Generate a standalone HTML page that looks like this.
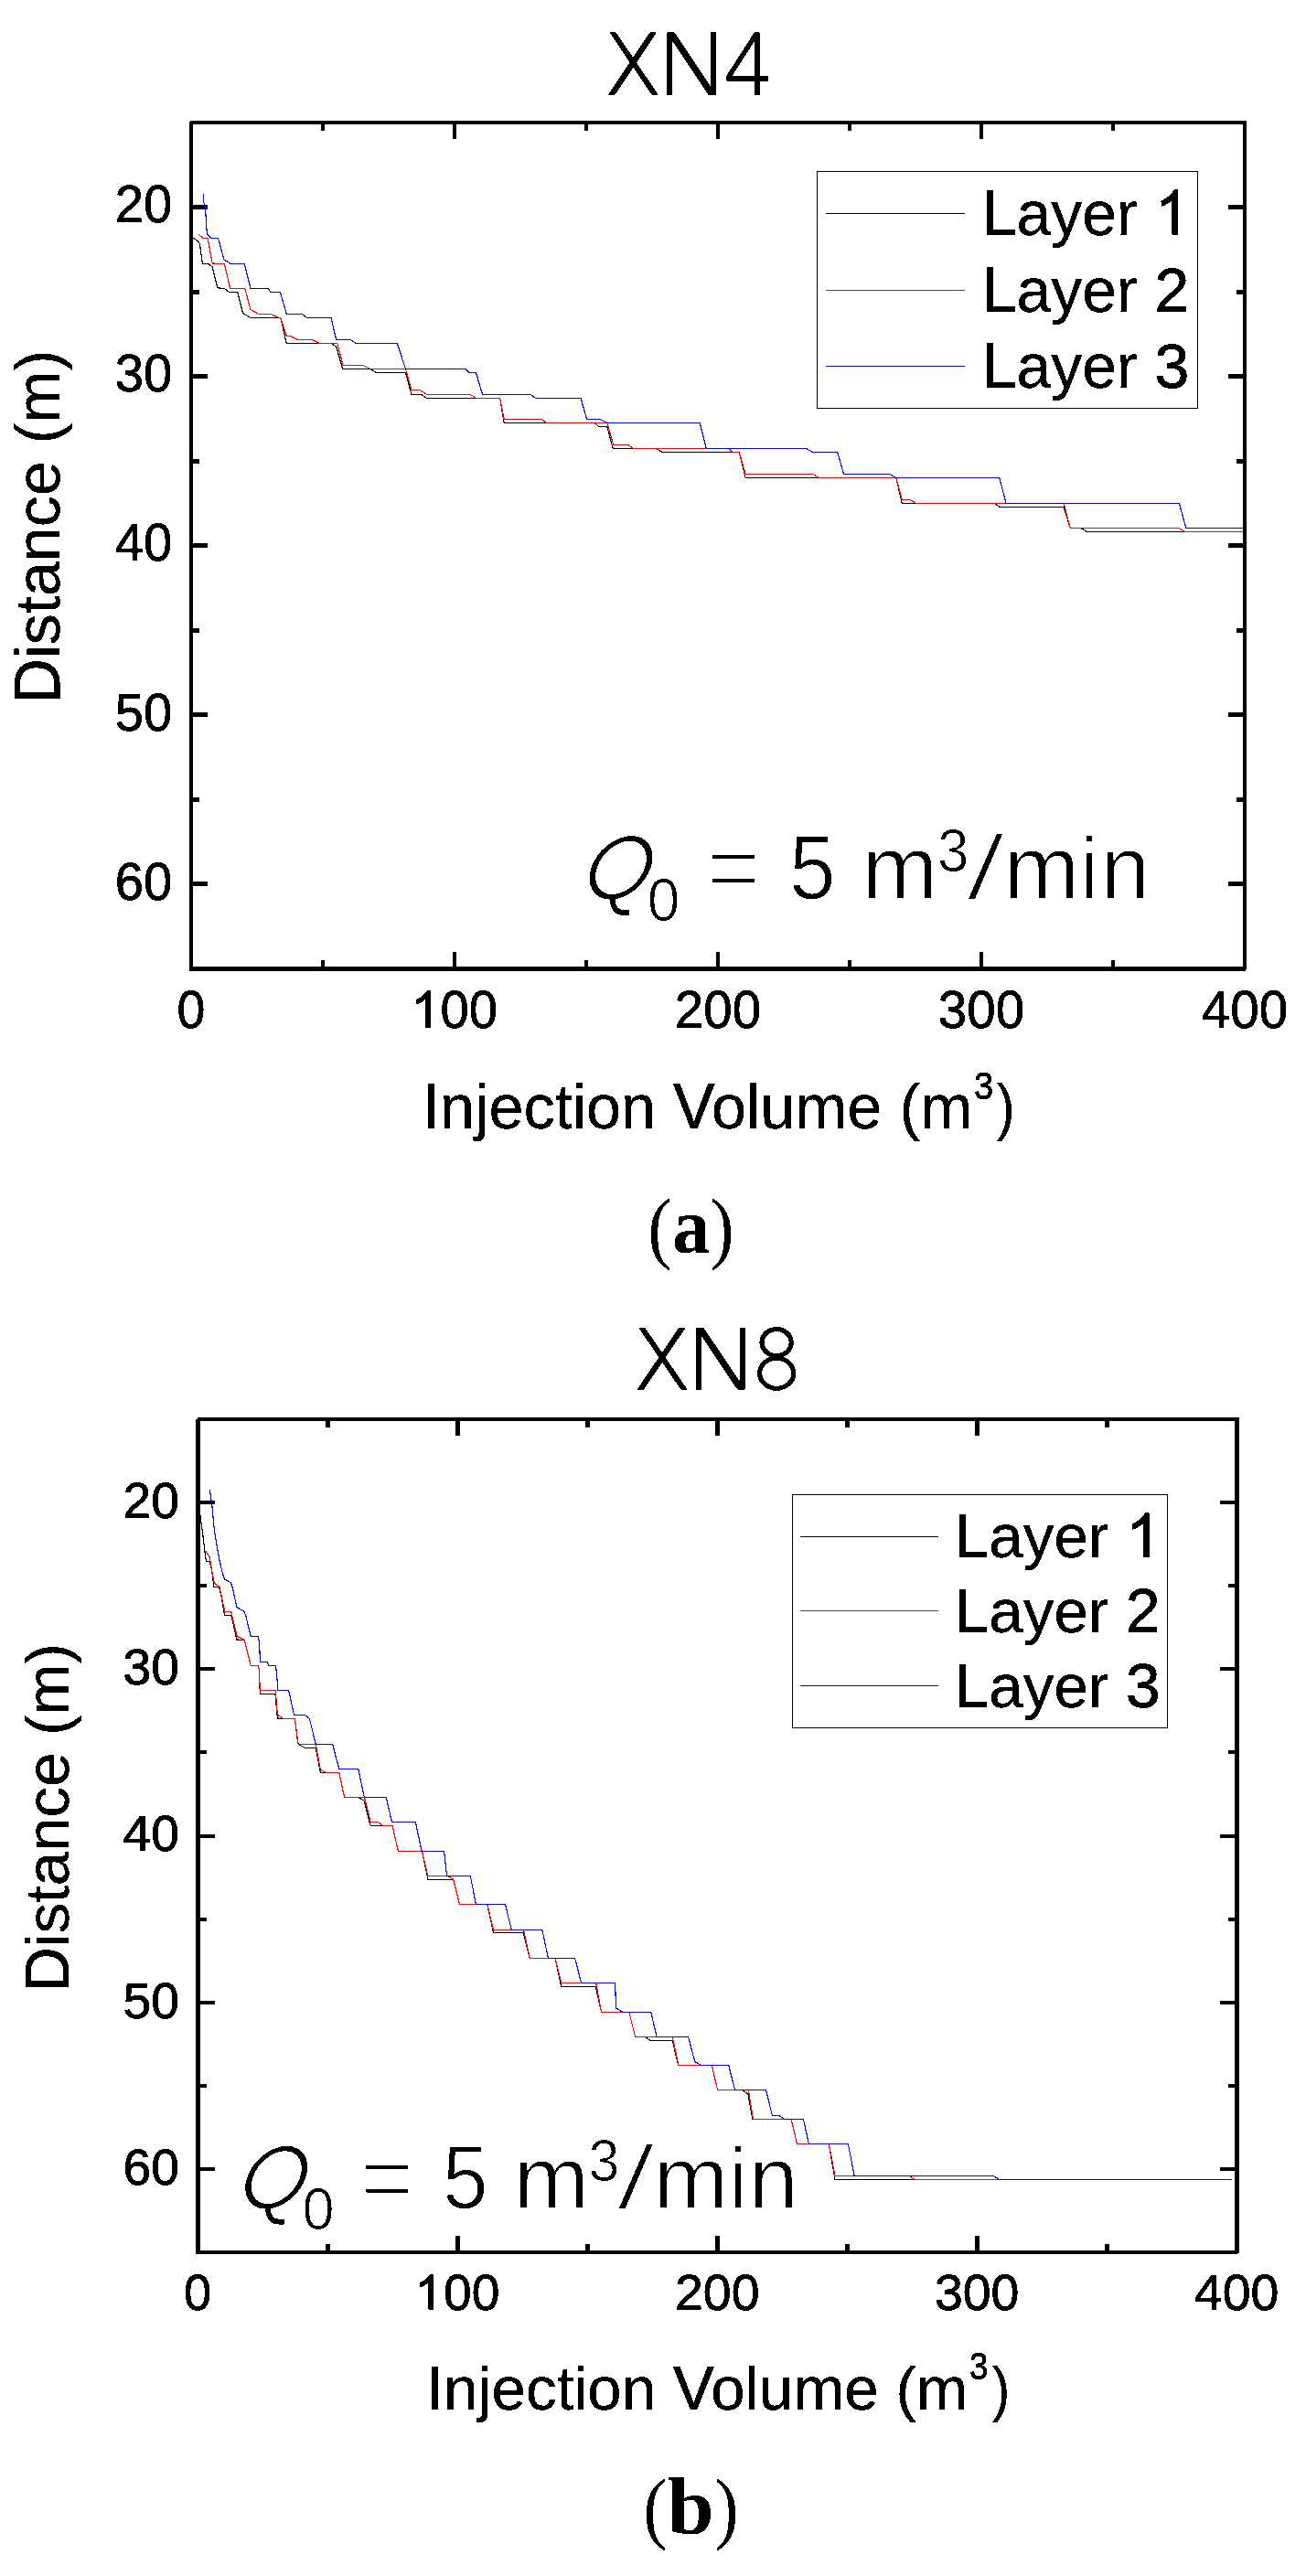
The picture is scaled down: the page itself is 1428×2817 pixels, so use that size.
<!DOCTYPE html>
<html><head><meta charset="utf-8"><title>Figure</title>
<style>html,body{margin:0;padding:0;background:#fff}svg{display:block}</style>
</head><body>
<svg width="1428" height="2817" viewBox="0 0 1428 2817" font-family="'Liberation Sans', sans-serif">
<rect width="1428" height="2817" fill="#fff"/>
<defs><filter id="bin" x="-5%" y="-5%" width="110%" height="110%" color-interpolation-filters="sRGB"><feComponentTransfer><feFuncR type="discrete" tableValues="0 1"/><feFuncG type="discrete" tableValues="0 1"/><feFuncB type="discrete" tableValues="0 1"/><feFuncA type="discrete" tableValues="0 1"/></feComponentTransfer></filter></defs>
<g fill="#000">
<rect x="207" y="132" width="1156" height="4"/>
<rect x="207" y="1057" width="1156" height="5"/>
<rect x="207" y="132" width="4" height="930"/>
<rect x="1359" y="132" width="4" height="930"/>
<rect x="211" y="224" width="16" height="5"/>
<rect x="1343" y="224" width="16" height="5"/>
<rect x="211" y="317" width="7" height="5"/>
<rect x="1352" y="317" width="7" height="5"/>
<rect x="211" y="409" width="16" height="5"/>
<rect x="1343" y="409" width="16" height="5"/>
<rect x="211" y="502" width="7" height="5"/>
<rect x="1352" y="502" width="7" height="5"/>
<rect x="211" y="594" width="16" height="5"/>
<rect x="1343" y="594" width="16" height="5"/>
<rect x="211" y="687" width="7" height="5"/>
<rect x="1352" y="687" width="7" height="5"/>
<rect x="211" y="779" width="16" height="5"/>
<rect x="1343" y="779" width="16" height="5"/>
<rect x="211" y="872" width="7" height="5"/>
<rect x="1352" y="872" width="7" height="5"/>
<rect x="211" y="964" width="16" height="5"/>
<rect x="1343" y="964" width="16" height="5"/>
<rect x="351" y="136" width="4" height="7"/>
<rect x="351" y="1050" width="4" height="7"/>
<rect x="495" y="136" width="4" height="16"/>
<rect x="495" y="1041" width="4" height="16"/>
<rect x="639" y="136" width="4" height="7"/>
<rect x="639" y="1050" width="4" height="7"/>
<rect x="783" y="136" width="4" height="16"/>
<rect x="783" y="1041" width="4" height="16"/>
<rect x="927" y="136" width="4" height="7"/>
<rect x="927" y="1050" width="4" height="7"/>
<rect x="1071" y="136" width="4" height="16"/>
<rect x="1071" y="1041" width="4" height="16"/>
<rect x="1215" y="136" width="4" height="7"/>
<rect x="1215" y="1050" width="4" height="7"/>
</g>
<polyline points="210.3,260.2 212.6,261.1 216.1,263.2 218.4,266.6 221.4,288.4 227.6,288.4 232.2,291.9 237.9,314.9 244.8,315.3 250.5,319.2 259.7,319.4 265.5,342.4 273.5,347.2 306.8,347.2 313.2,375.3 361.9,375.3 367.7,379.2 374.6,403.3 404.4,403.3 411.3,407.4 443.5,407.4 449.9,431.3 460.7,431.3 466.5,435.5 498.6,435.5 503,435.5 546.6,435.5 551.2,462.3 650,462.3 654.6,466.5 663.8,466.5 670.2,490.4 717.7,490.4 724,494.5 778.6,494.5 783,494.4 808.2,494.4 815.1,522.4 979.8,522.4 986.3,550.5 1058.6,550.5 1066,550.2 1086.9,550.2 1092.8,554.4 1163.1,554.4 1170.2,577.3 1181.4,577.3 1188.4,581.5 1358.9,581.5" fill="none" stroke="#000" stroke-width="1.15" shape-rendering="crispEdges"/>
<polyline points="217.2,256.3 221.8,260.2 227.1,260.6 232.2,288 245.3,288.4 251.7,315.3 267.8,315.5 274,338.5 282.7,343.3 295.3,343.3 306.8,348.2 313.2,367 317.2,367.5 325.2,371.4 341.3,371.4 349.3,375.3 368.8,375.3 375,399.2 396.4,399.2 404.4,403.3 443.5,403.3 449.9,426.5 459.6,426.7 466.5,431.3 498.6,431.3 503,431.3 514,431.3 520.9,435.5 546.6,435.5 551.2,458.2 591.9,458.2 597.6,462.3 663.8,462.3 670.7,486.4 686.7,486.4 692.5,490.4 778.6,490.4 783,490.5 796.8,490.5 800.9,494.4 808.2,494.4 815.1,518.5 889.3,518.5 895.1,522.4 979.8,522.4 986.3,546.3 994.8,546.3 1001.7,550.5 1058.6,550.5 1066,550.2 1163.1,550.2 1170.2,577.3 1288.6,577.3 1295.7,581.5 1358.9,581.5" fill="none" stroke="#f00" stroke-width="1.15" shape-rendering="crispEdges"/>
<polyline points="221.8,212.2 222.5,212.2 222.5,221.8 223.7,222.3 224.8,231.5 225.7,248.2 226.6,256.3 231,260.2 238.6,260.4 244.8,283.8 251.7,288.2 267.1,288.2 274,315.3 293,315.3 296,319.2 306.4,319.4 313.2,343.3 329.8,343.3 335.5,347.2 361.9,347.2 367.7,371.4 383.1,371.4 388.8,375.3 434.3,375.3 443.5,403.5 498.6,403.5 503,403.5 509.2,403.5 512.8,407.4 520.4,407.4 527.5,431.3 579.9,431.3 585.7,435.5 635.1,435.5 641.5,458.2 655.7,458.2 663.3,462.3 765.3,462.3 772.2,490.4 778.6,490.4 783,490.3 881.1,490.3 887.9,494.2 915.7,494.2 922.6,518.5 973.2,518.5 979.4,522.4 1058.6,522.4 1066,522.4 1092.8,522.4 1099.9,550.2 1289.4,550.2 1296.7,577.3 1358.9,577.3" fill="none" stroke="#00f" stroke-width="1.15" shape-rendering="crispEdges"/>
<g font-family="'Liberation Sans', sans-serif" fill="#000">
<g filter="url(#bin)">
<text x="125.74" y="243.25" font-size="57.6" textLength="62.53" lengthAdjust="spacingAndGlyphs" stroke="#000" stroke-width="0.8" >20</text>
<text x="125.73" y="428.35" font-size="57.6" textLength="62.54" lengthAdjust="spacingAndGlyphs" stroke="#000" stroke-width="0.8" >30</text>
<text x="125.72" y="613.45" font-size="57.6" textLength="62.55" lengthAdjust="spacingAndGlyphs" stroke="#000" stroke-width="0.8" >40</text>
<text x="125.73" y="798.55" font-size="57.6" textLength="62.54" lengthAdjust="spacingAndGlyphs" stroke="#000" stroke-width="0.8" >50</text>
<text x="125.74" y="983.65" font-size="57.6" textLength="62.53" lengthAdjust="spacingAndGlyphs" stroke="#000" stroke-width="0.8" >60</text>
<text x="193.62" y="1124.40" font-size="57.6" textLength="30.77" lengthAdjust="spacingAndGlyphs" stroke="#000" stroke-width="0.8" >0</text>
<path transform="translate(449.45,1124.00) scale(0.02783,-0.02783)" stroke="#000" stroke-width="0.8" vector-effect="non-scaling-stroke" d="M763,0 L583,0 L583,1147 Q518,1085 412.5,1023 Q307,961 223,930 L223,1104 Q374,1175 487,1276 Q600,1377 647,1472 L763,1472 Z"/>
<text x="481.58" y="1124.40" font-size="57.6" textLength="62.54" lengthAdjust="spacingAndGlyphs" stroke="#000" stroke-width="0.8" >00</text>
<text x="737.87" y="1124.40" font-size="57.6" textLength="94.26" lengthAdjust="spacingAndGlyphs" stroke="#000" stroke-width="0.8" >200</text>
<text x="1025.87" y="1124.40" font-size="57.6" textLength="94.26" lengthAdjust="spacingAndGlyphs" stroke="#000" stroke-width="0.8" >300</text>
<text x="1313.86" y="1124.40" font-size="57.6" textLength="94.27" lengthAdjust="spacingAndGlyphs" stroke="#000" stroke-width="0.8" >400</text>
<text x="462.08" y="1234.00" font-size="70.0075" textLength="19.02" lengthAdjust="spacingAndGlyphs" stroke="#000" stroke-width="0.8" >I</text>
<text x="481.10" y="1234.00" font-size="68.3" textLength="235.98" lengthAdjust="spacingAndGlyphs" stroke="#000" stroke-width="0.3" >njection</text>
<text x="736.10" y="1234.00" font-size="70.0075" textLength="45.66" lengthAdjust="spacingAndGlyphs" stroke="#000" stroke-width="0.8" >V</text>
<text x="777.99" y="1234.00" font-size="68.3" textLength="285.32" lengthAdjust="spacingAndGlyphs" stroke="#000" stroke-width="0.3" >olume (m</text>
<text x="1065.05" y="1201.60" font-size="42.4826" textLength="21.23" lengthAdjust="spacingAndGlyphs" stroke="#000" stroke-width="0.8" >3</text>
<text x="1089.70" y="1234.00" font-size="68.3" textLength="19.84" lengthAdjust="spacingAndGlyphs" stroke="#000" stroke-width="0.3" >)</text>
<g transform="translate(65.2,0) rotate(-90)">
<text x="-769.60" y="0.00" font-size="70.0075" textLength="49.28" lengthAdjust="spacingAndGlyphs" stroke="#000" stroke-width="0.8" >D</text>
<text x="-720.32" y="0.00" font-size="68.3" textLength="337.45" lengthAdjust="spacingAndGlyphs" stroke="#000" stroke-width="0.3" >istance (m)</text>
</g>
</g>
<rect x="893.5" y="187.5" width="416" height="259" fill="#fff" stroke="#000" stroke-width="1" shape-rendering="crispEdges"/>
<rect x="903" y="233" width="152" height="1" fill="#000"/>
<rect x="903" y="317" width="152" height="1" fill="#f00"/>
<rect x="903" y="400" width="152" height="1" fill="#00f"/>
<g filter="url(#bin)">
<text x="1073.73" y="256.70" font-size="69.905" textLength="37.78" lengthAdjust="spacingAndGlyphs" stroke="#000" stroke-width="0.8" >L</text>
<text x="1111.51" y="256.70" font-size="68.2" textLength="132.15" lengthAdjust="spacingAndGlyphs" stroke="#000" stroke-width="0.3" >ayer</text>
<path transform="translate(1262.54,256.70) scale(0.03317,-0.03330)" stroke="#000" stroke-width="0.8" vector-effect="non-scaling-stroke" d="M763,0 L583,0 L583,1147 Q518,1085 412.5,1023 Q307,961 223,930 L223,1104 Q374,1175 487,1276 Q600,1377 647,1472 L763,1472 Z"/>
<text x="1073.73" y="340.70" font-size="69.905" textLength="37.78" lengthAdjust="spacingAndGlyphs" stroke="#000" stroke-width="0.8" >L</text>
<text x="1111.51" y="340.70" font-size="68.2" textLength="132.15" lengthAdjust="spacingAndGlyphs" stroke="#000" stroke-width="0.3" >ayer</text>
<text x="1262.54" y="340.70" font-size="68.882" textLength="37.78" lengthAdjust="spacingAndGlyphs" stroke="#000" stroke-width="0.8" >2</text>
<text x="1073.73" y="423.90" font-size="69.905" textLength="37.78" lengthAdjust="spacingAndGlyphs" stroke="#000" stroke-width="0.8" >L</text>
<text x="1111.51" y="423.90" font-size="68.2" textLength="132.15" lengthAdjust="spacingAndGlyphs" stroke="#000" stroke-width="0.3" >ayer</text>
<text x="1262.54" y="423.90" font-size="68.882" textLength="37.78" lengthAdjust="spacingAndGlyphs" stroke="#000" stroke-width="0.8" >3</text>
</g>
</g>
<g fill="#000">
<rect x="214" y="1550" width="1141" height="4"/>
<rect x="214" y="2461" width="1141" height="4"/>
<rect x="214" y="1550" width="5" height="915"/>
<rect x="1350" y="1550" width="5" height="915"/>
<rect x="219" y="1641" width="16" height="4"/>
<rect x="1334" y="1641" width="16" height="4"/>
<rect x="219" y="1732" width="7" height="4"/>
<rect x="1343" y="1732" width="7" height="4"/>
<rect x="219" y="1823" width="16" height="4"/>
<rect x="1334" y="1823" width="16" height="4"/>
<rect x="219" y="1914" width="7" height="4"/>
<rect x="1343" y="1914" width="7" height="4"/>
<rect x="219" y="2006" width="16" height="4"/>
<rect x="1334" y="2006" width="16" height="4"/>
<rect x="219" y="2097" width="7" height="4"/>
<rect x="1343" y="2097" width="7" height="4"/>
<rect x="219" y="2188" width="16" height="4"/>
<rect x="1334" y="2188" width="16" height="4"/>
<rect x="219" y="2279" width="7" height="4"/>
<rect x="1343" y="2279" width="7" height="4"/>
<rect x="219" y="2370" width="16" height="4"/>
<rect x="1334" y="2370" width="16" height="4"/>
<rect x="356" y="1554" width="5" height="7"/>
<rect x="356" y="2454" width="5" height="7"/>
<rect x="498" y="1554" width="5" height="16"/>
<rect x="498" y="2445" width="5" height="16"/>
<rect x="640" y="1554" width="5" height="7"/>
<rect x="640" y="2454" width="5" height="7"/>
<rect x="782" y="1554" width="5" height="16"/>
<rect x="782" y="2445" width="5" height="16"/>
<rect x="924" y="1554" width="5" height="7"/>
<rect x="924" y="2454" width="5" height="7"/>
<rect x="1066" y="1554" width="5" height="16"/>
<rect x="1066" y="2445" width="5" height="16"/>
<rect x="1208" y="1554" width="5" height="7"/>
<rect x="1208" y="2454" width="5" height="7"/>
</g>
<polyline points="218.9,1657 219.8,1664.3 221.1,1673.5 222.4,1682.7 223.9,1696.5 225.4,1707 229.4,1707.5 231.6,1717.6 234,1735.1 239.5,1735.6 242.3,1747 245.4,1766.3 252.7,1766.3 256,1780.1 258.8,1793 267.1,1793.3 270.8,1807.7 274.1,1821.3 282.3,1821.3 282.5,1821.3 283.4,1827.6 284.3,1852.4 300.9,1852.4 303.4,1879 309.5,1879.4 322.4,1879.4 326,1906.6 327,1908.1 334,1911.4 345.3,1911.4 350.3,1938.2 370.7,1938.2 376.6,1965.4 392.2,1965.9 398.1,1969.1 405.1,1996.4 429,1996.4 435.4,2024.4 461.1,2024.4 461.4,2024.1 468,2055.1 495.6,2055.1 502.4,2082.3 532.7,2082.3 539.5,2113.4 572.2,2113.4 579.2,2141.3 607.1,2141.3 613.6,2172.4 651.2,2172.4 657.5,2200.2 687.8,2200.2 694.6,2227.4 705.2,2227.4 710.8,2231.2 735.2,2231.2 741.6,2258.4 778.2,2258.4 784.6,2285.4 810.9,2285.4 817.9,2289.7 822.8,2317.4 865.1,2317.4 871.5,2344.3 906.2,2344.3 913,2383.4 1000.3,2383.4 1092.7,2383.4" fill="none" stroke="#000" stroke-width="1.15" shape-rendering="crispEdges"/>
<polyline points="224.8,1696.1 229.4,1702.9 231.6,1717.6 234.4,1731.4 240.1,1735.6 243.2,1750.7 245.9,1762.3 252.7,1762.3 256,1776.4 259.2,1789.3 267.1,1793.3 270.8,1807.7 274.1,1821.3 282.3,1821.3 282.5,1821.3 283.4,1827.6 284.3,1848.3 301.2,1848.3 303.4,1875.3 309.5,1879.4 322.4,1879.4 325.7,1906.6 326.6,1907.5 345.3,1907.5 350.3,1935.1 356.4,1938.2 370.7,1938.2 376.6,1965.4 398.6,1965.4 405.1,1992.4 413.3,1992.4 418.5,1996.4 429,1996.4 435.4,2024.4 461.1,2024.4 461.4,2024.1 467.8,2051.3 489.5,2051.3 495.6,2055.1 502.4,2082.3 532.7,2082.3 539.5,2110.3 572.6,2110.3 579.2,2141.3 607.1,2141.3 613.6,2168.3 651.6,2168.3 657.5,2200.2 687.8,2200.2 694.6,2227.4 735.2,2227.4 742,2258.4 778.2,2258.4 784.6,2285.4 818.3,2285.4 823.4,2317.4 865.1,2317.4 871.5,2344.3 906.2,2344.3 913,2379.2 993.9,2379.2 1000.3,2383.4 1092.7,2383.4" fill="none" stroke="#f00" stroke-width="1.15" shape-rendering="crispEdges"/>
<polyline points="229.4,1629 230.3,1635.8 231.6,1644.1 232.7,1655.1 234,1669.8 235.8,1682.7 237.7,1693.7 240.1,1706.6 242.6,1717.6 245.4,1726.8 252.4,1730.8 254.2,1736 256.6,1747 258.8,1757.5 267.1,1762.3 268.9,1767.2 271.7,1779.2 274.1,1789.1 282.3,1789.1 283.6,1797.5 284.5,1817.4 292.4,1817.4 293.7,1821.3 301.4,1821.3 301.6,1821.3 304,1848.3 315.6,1848.3 321.5,1875.3 333,1875.3 338.4,1879.4 345.3,1907.5 363.7,1907.5 370.7,1934.3 391.7,1934.3 398.3,1965.4 422.2,1965.4 428.4,1992.4 454.3,1992.4 461.1,2024.4 461.4,2024.1 485.5,2024.1 488.6,2051.3 514.3,2051.3 520.4,2082.3 552.4,2082.3 559.3,2110.3 592.8,2110.3 599.4,2141.3 628.6,2141.3 635.6,2168.3 672.7,2168.3 673.4,2195.9 680.8,2200.2 711.7,2200.2 718.1,2227.4 752.6,2227.4 759.8,2254.7 766.8,2258.4 796.8,2258.4 803.6,2285.4 837.5,2285.4 844.3,2313.2 851,2313.2 857.8,2317.4 857.9,2317.2 878.4,2317.2 884.3,2344.3 927.3,2344.3 934.2,2379.2 1085.8,2379.2 1092.7,2383.4 1346.5,2383.4" fill="none" stroke="#00f" stroke-width="1.15" shape-rendering="crispEdges"/>
<g font-family="'Liberation Sans', sans-serif" fill="#000">
<g filter="url(#bin)">
<text x="134.55" y="1659.90" font-size="54.8" textLength="61.42" lengthAdjust="spacingAndGlyphs" stroke="#000" stroke-width="0.8" >20</text>
<text x="134.54" y="1842.10" font-size="54.8" textLength="61.43" lengthAdjust="spacingAndGlyphs" stroke="#000" stroke-width="0.8" >30</text>
<text x="134.53" y="2024.30" font-size="54.8" textLength="61.44" lengthAdjust="spacingAndGlyphs" stroke="#000" stroke-width="0.8" >40</text>
<text x="134.54" y="2206.50" font-size="54.8" textLength="61.43" lengthAdjust="spacingAndGlyphs" stroke="#000" stroke-width="0.8" >50</text>
<text x="134.55" y="2388.70" font-size="54.8" textLength="61.42" lengthAdjust="spacingAndGlyphs" stroke="#000" stroke-width="0.8" >60</text>
<text x="201.09" y="2526.00" font-size="54.8" textLength="30.21" lengthAdjust="spacingAndGlyphs" stroke="#000" stroke-width="0.8" >0</text>
<path transform="translate(453.48,2525.60) scale(0.02625,-0.02625)" stroke="#000" stroke-width="0.8" vector-effect="non-scaling-stroke" d="M763,0 L583,0 L583,1147 Q518,1085 412.5,1023 Q307,961 223,930 L223,1104 Q374,1175 487,1276 Q600,1377 647,1472 L763,1472 Z"/>
<text x="485.06" y="2526.00" font-size="54.8" textLength="61.43" lengthAdjust="spacingAndGlyphs" stroke="#000" stroke-width="0.8" >00</text>
<text x="737.91" y="2526.00" font-size="54.8" textLength="92.59" lengthAdjust="spacingAndGlyphs" stroke="#000" stroke-width="0.8" >200</text>
<text x="1021.90" y="2526.00" font-size="54.8" textLength="92.59" lengthAdjust="spacingAndGlyphs" stroke="#000" stroke-width="0.8" >300</text>
<text x="1305.89" y="2526.00" font-size="54.8" textLength="92.60" lengthAdjust="spacingAndGlyphs" stroke="#000" stroke-width="0.8" >400</text>
<text x="466.38" y="2634.70" font-size="68.9825" textLength="18.72" lengthAdjust="spacingAndGlyphs" stroke="#000" stroke-width="0.8" >I</text>
<text x="485.10" y="2634.70" font-size="67.3" textLength="232.22" lengthAdjust="spacingAndGlyphs" stroke="#000" stroke-width="0.3" >njection</text>
<text x="736.04" y="2634.70" font-size="68.9825" textLength="44.94" lengthAdjust="spacingAndGlyphs" stroke="#000" stroke-width="0.8" >V</text>
<text x="777.26" y="2634.70" font-size="67.3" textLength="280.78" lengthAdjust="spacingAndGlyphs" stroke="#000" stroke-width="0.3" >olume (m</text>
<text x="1059.90" y="2602.00" font-size="41.8606" textLength="20.41" lengthAdjust="spacingAndGlyphs" stroke="#000" stroke-width="0.8" >3</text>
<text x="1084.81" y="2634.70" font-size="67.3" textLength="19.59" lengthAdjust="spacingAndGlyphs" stroke="#000" stroke-width="0.3" >)</text>
<g transform="translate(75,0) rotate(-90)">
<text x="-2177.81" y="0.00" font-size="68.9825" textLength="48.51" lengthAdjust="spacingAndGlyphs" stroke="#000" stroke-width="0.8" >D</text>
<text x="-2129.30" y="0.00" font-size="67.3" textLength="332.17" lengthAdjust="spacingAndGlyphs" stroke="#000" stroke-width="0.3" >istance (m)</text>
</g>
</g>
<rect x="866.5" y="1634.5" width="410" height="255" fill="#fff" stroke="#000" stroke-width="1" shape-rendering="crispEdges"/>
<rect x="875" y="1680" width="151" height="1" fill="#000"/>
<rect x="875" y="1761" width="151" height="1" fill="#f00"/>
<rect x="875" y="1843" width="151" height="1" fill="#00f"/>
<g filter="url(#bin)">
<text x="1043.77" y="1703.10" font-size="68.9825" textLength="37.47" lengthAdjust="spacingAndGlyphs" stroke="#000" stroke-width="0.8" >L</text>
<text x="1081.24" y="1703.10" font-size="67.3" textLength="131.06" lengthAdjust="spacingAndGlyphs" stroke="#000" stroke-width="0.3" >ayer</text>
<path transform="translate(1231.02,1703.10) scale(0.03290,-0.03286)" stroke="#000" stroke-width="0.8" vector-effect="non-scaling-stroke" d="M763,0 L583,0 L583,1147 Q518,1085 412.5,1023 Q307,961 223,930 L223,1104 Q374,1175 487,1276 Q600,1377 647,1472 L763,1472 Z"/>
<text x="1043.77" y="1784.70" font-size="68.9825" textLength="37.47" lengthAdjust="spacingAndGlyphs" stroke="#000" stroke-width="0.8" >L</text>
<text x="1081.24" y="1784.70" font-size="67.3" textLength="131.06" lengthAdjust="spacingAndGlyphs" stroke="#000" stroke-width="0.3" >ayer</text>
<text x="1231.02" y="1784.70" font-size="67.973" textLength="37.47" lengthAdjust="spacingAndGlyphs" stroke="#000" stroke-width="0.8" >2</text>
<text x="1043.77" y="1867.30" font-size="68.9825" textLength="37.47" lengthAdjust="spacingAndGlyphs" stroke="#000" stroke-width="0.8" >L</text>
<text x="1081.24" y="1867.30" font-size="67.3" textLength="131.06" lengthAdjust="spacingAndGlyphs" stroke="#000" stroke-width="0.3" >ayer</text>
<text x="1231.02" y="1867.30" font-size="67.973" textLength="37.47" lengthAdjust="spacingAndGlyphs" stroke="#000" stroke-width="0.8" >3</text>
</g>
</g>
<g fill="#fff"><rect x="207" y="132" width="1" height="1"/><rect x="1362" y="1060" width="1" height="2"/><rect x="214" y="1550" width="2" height="2"/><rect x="1353" y="2464" width="2" height="1"/></g>
<g transform="translate(665,35.6) scale(1,1)" fill="#000" stroke="none" filter="url(#bin)">
<polygon points="1.6,0 8.6,0 54.9,68.2 47.6,68.2"/>
<polygon points="45.3,0 52.9,0 7.4,68.2 0,68.2"/>
<polygon points="64.1,0 72.7,0 111.9,58.9 111.9,0 118.1,0 118.1,68.2 109.5,68.2 70.3,9.3 70.3,68.2 64.1,68.2"/>
<path fill-rule="evenodd" d="M129.1,47.6 L159.7,0 L165.9,0 L165.9,47.6 L175,47.6 L175,52.8 L165.9,52.8 L165.9,68.2 L159.7,68.2 L159.7,52.8 L129.1,52.8 Z M135.4,47.6 L159.7,9.8 L159.7,47.6 Z"/>
</g>
<g transform="translate(696.7,1452) scale(1,0.988)" fill="#000" stroke="none" filter="url(#bin)">
<polygon points="1.6,0 8.6,0 54.9,68.2 47.6,68.2"/>
<polygon points="45.3,0 52.9,0 7.4,68.2 0,68.2"/>
<polygon points="64.1,0 72.7,0 111.9,58.9 111.9,0 118.1,0 118.1,68.2 109.5,68.2 70.3,9.3 70.3,68.2 64.1,68.2"/>
<g fill="none" stroke="#000" stroke-width="5.2"><ellipse cx="152.4" cy="16.2" rx="16.1" ry="14.7"/><ellipse cx="152.5" cy="50.4" rx="18.6" ry="16.7"/></g>
</g>
<g filter="url(#bin)"><g transform="translate(645.2,983) scale(1) translate(-645.2,-983)" fill="#000">
<path transform="translate(679.0,948.8) skewX(-18.5)" fill-rule="evenodd" d="M-32.5,0 A32.5,34.8 0 1,0 32.5,0 A32.5,34.8 0 1,0 -32.5,0 Z M-26.2,0 A26.2,29.3 0 1,0 26.2,0 A26.2,29.3 0 1,0 -26.2,0 Z"/>
<path fill="none" stroke="#000" stroke-width="6" d="M669.3,979 C669.3,991.5 672.5,997.9 682,997.9 L687.6,997.9"/>
<text x="707.80" y="1006.60" font-size="66" textLength="35.60" lengthAdjust="spacingAndGlyphs" stroke="#fff" stroke-width="1" >0</text>
<rect x="778.6" y="935.4" width="46.4" height="4"/><rect x="778.6" y="961.4" width="46.4" height="4"/>
<text x="863.10" y="983.40" font-size="100" textLength="50.67" lengthAdjust="spacingAndGlyphs" stroke="#fff" stroke-width="1.5" >5</text>
<text x="942.30" y="983.40" font-size="98" textLength="83.46" lengthAdjust="spacingAndGlyphs" stroke="#fff" stroke-width="1.5" >m</text>
<text x="1025.05" y="953.00" font-size="66.5" textLength="34.37" lengthAdjust="spacingAndGlyphs" stroke="#fff" stroke-width="1" >3</text>
<polygon points="1059,982.9 1065.9,982.9 1096.1,912 1089.9,912"/>
<text x="1097.21" y="983.40" font-size="98" textLength="83.34" lengthAdjust="spacingAndGlyphs" stroke="#fff" stroke-width="1.5" >m</text>
<text x="1180.79" y="983.40" font-size="96" textLength="20.47" lengthAdjust="spacingAndGlyphs" stroke="#fff" stroke-width="1.5" >i</text>
<text x="1203.16" y="983.40" font-size="98" textLength="54.33" lengthAdjust="spacingAndGlyphs" stroke="#fff" stroke-width="1.5" >n</text>
</g></g>
<g filter="url(#bin)"><g transform="translate(268.9,2414.9) scale(0.986) translate(-645.2,-983)" fill="#000">
<path transform="translate(679.0,948.8) skewX(-18.5)" fill-rule="evenodd" d="M-32.5,0 A32.5,34.8 0 1,0 32.5,0 A32.5,34.8 0 1,0 -32.5,0 Z M-26.2,0 A26.2,29.3 0 1,0 26.2,0 A26.2,29.3 0 1,0 -26.2,0 Z"/>
<path fill="none" stroke="#000" stroke-width="6" d="M669.3,979 C669.3,991.5 672.5,997.9 682,997.9 L687.6,997.9"/>
<text x="707.80" y="1006.60" font-size="66" textLength="35.60" lengthAdjust="spacingAndGlyphs" stroke="#fff" stroke-width="1" >0</text>
<rect x="778.6" y="935.4" width="46.4" height="4"/><rect x="778.6" y="961.4" width="46.4" height="4"/>
<text x="863.10" y="983.40" font-size="100" textLength="50.67" lengthAdjust="spacingAndGlyphs" stroke="#fff" stroke-width="1.5" >5</text>
<text x="942.30" y="983.40" font-size="98" textLength="83.46" lengthAdjust="spacingAndGlyphs" stroke="#fff" stroke-width="1.5" >m</text>
<text x="1025.05" y="953.00" font-size="66.5" textLength="34.37" lengthAdjust="spacingAndGlyphs" stroke="#fff" stroke-width="1" >3</text>
<polygon points="1059,982.9 1065.9,982.9 1096.1,912 1089.9,912"/>
<text x="1097.21" y="983.40" font-size="98" textLength="83.34" lengthAdjust="spacingAndGlyphs" stroke="#fff" stroke-width="1.5" >m</text>
<text x="1180.79" y="983.40" font-size="96" textLength="20.47" lengthAdjust="spacingAndGlyphs" stroke="#fff" stroke-width="1.5" >i</text>
<text x="1203.16" y="983.40" font-size="98" textLength="54.33" lengthAdjust="spacingAndGlyphs" stroke="#fff" stroke-width="1.5" >n</text>
</g></g>
<g filter="url(#bin)">
<text x="708.48" y="1370.70" font-size="86" textLength="25.93" lengthAdjust="spacingAndGlyphs"  font-family="'Liberation Serif', serif">(</text>
<text x="735.37" y="1370.20" font-size="87" textLength="40.87" lengthAdjust="spacingAndGlyphs"  font-family="'Liberation Serif', serif" font-weight="bold">a</text>
<text x="776.48" y="1370.70" font-size="86" textLength="26.06" lengthAdjust="spacingAndGlyphs"  font-family="'Liberation Serif', serif">)</text>
<text x="703.60" y="2770.60" font-size="86" textLength="25.80" lengthAdjust="spacingAndGlyphs"  font-family="'Liberation Serif', serif">(</text>
<text x="729.74" y="2770.60" font-size="88.8" textLength="50.98" lengthAdjust="spacingAndGlyphs"  font-family="'Liberation Serif', serif" font-weight="bold">b</text>
<text x="781.38" y="2770.60" font-size="86" textLength="26.06" lengthAdjust="spacingAndGlyphs"  font-family="'Liberation Serif', serif">)</text>
</g>
</svg></body></html>
